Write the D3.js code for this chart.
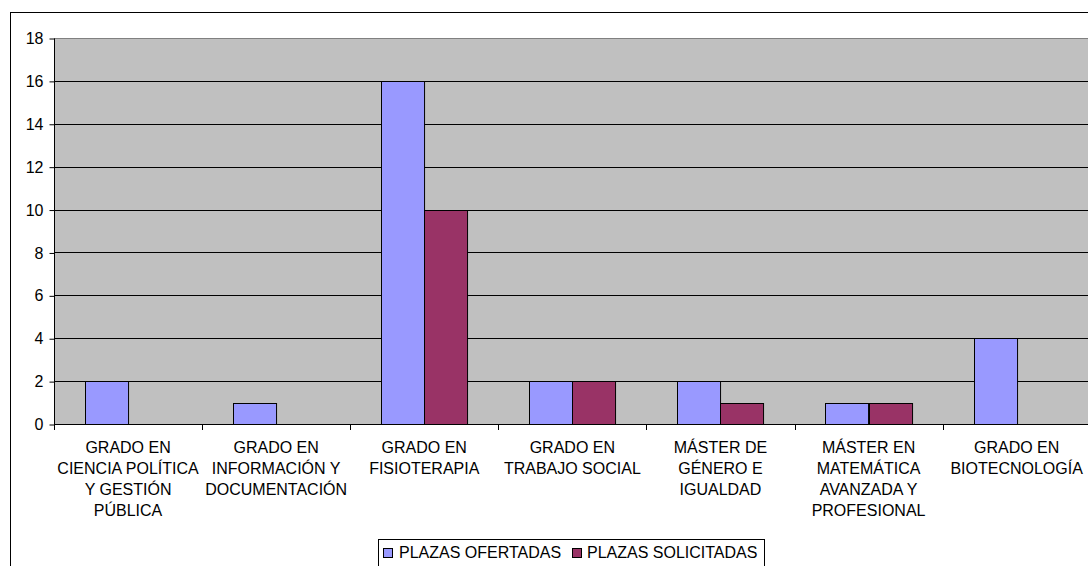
<!DOCTYPE html>
<html>
<head>
<meta charset="utf-8">
<script src="https://cdn.jsdelivr.net/npm/d3@7"></script>
<style>
  html, body { margin: 0; padding: 0; background: #fff; }
  svg { display: block; }
  text { font-family: "Liberation Sans", Arial, sans-serif; fill: #000; }
</style>
</head>
<body>
<svg id="chart" width="1088" height="566"></svg>
<script>
const categories = [
  "GRADO EN\nCIENCIA POLÍTICA\nY GESTIÓN\nPÚBLICA",
  "GRADO EN\nINFORMACIÓN Y\nDOCUMENTACIÓN",
  "GRADO EN\nFISIOTERAPIA",
  "GRADO EN\nTRABAJO SOCIAL",
  "MÁSTER DE\nGÉNERO E\nIGUALDAD",
  "MÁSTER EN\nMATEMÁTICA\nAVANZADA Y\nPROFESIONAL",
  "GRADO EN\nBIOTECNOLOGÍA"
];
const seriesNames = ["PLAZAS OFERTADAS", "PLAZAS SOLICITADAS"];
const plazasOfertadas = [2, 1, 16, 2, 2, 1, 4];
const plazasSolicitadas = [0, 0, 10, 2, 1, 1, 0];
const yTicks = [0, 2, 4, 6, 8, 10, 12, 14, 16, 18];
const colors = ["#9999FF", "#993366"];

(function () {
const svg = d3.select("#chart");
const FONT = "16px";

// outer chart border
svg.append("rect").attr("x", 10.5).attr("y", 12.5).attr("width", 1100).attr("height", 600)
  .attr("fill", "#fff").attr("stroke", "#000").attr("stroke-width", 1);

const pLeft = 54, pTop = 38, pBottom = 424, step = 148.1;
const pRight = pLeft + step * categories.length;

const x = d3.scaleBand().domain(d3.range(categories.length)).range([pLeft, pRight]).paddingInner(0).paddingOuter(0);
const xs = d3.scaleBand().domain([0, 1]).range([0, x.bandwidth()]).paddingInner(0).paddingOuter(0.72);
const y = d3.scaleLinear().domain([0, 18]).range([pBottom, pTop]);

// plot background
svg.append("rect").attr("x", pLeft).attr("y", pTop).attr("width", pRight - pLeft).attr("height", pBottom - pTop)
  .attr("fill", "#C0C0C0");

// gridlines
svg.append("g").selectAll("line").data(yTicks.filter(d => d > 0)).join("line")
  .attr("x1", pLeft).attr("x2", pRight)
  .attr("y1", d => Math.round(y(d)) + 0.5).attr("y2", d => Math.round(y(d)) + 0.5)
  .attr("stroke", d => d === 18 ? "#808080" : "#000").attr("stroke-width", 1);

// bars
const data = [];
categories.forEach((c, i) => {
  [plazasOfertadas[i], plazasSolicitadas[i]].forEach((v, s) => {
    if (v > 0) data.push({ i, s, v });
  });
});
svg.append("g").selectAll("rect").data(data).join("rect")
  .attr("x", d => Math.round(x(d.i) + xs(d.s)) + 0.5)
  .attr("y", d => Math.round(y(d.v)) + 0.5)
  .attr("width", xs.bandwidth())
  .attr("height", d => Math.round(y(0)) - Math.round(y(d.v)))
  .attr("fill", d => colors[d.s])
  .attr("stroke", "#000").attr("stroke-width", 1);

// y axis
const yAxis = d3.axisLeft(y).tickValues(yTicks).tickSize(5).tickPadding(6).tickFormat(d3.format("d"));
const gy = svg.append("g").attr("transform", `translate(${pLeft + 0.5},0.5)`).call(yAxis);
gy.select(".domain").attr("stroke", "#000").attr("d", `M0,${pTop}V${pBottom}`);
gy.selectAll(".tick line").attr("stroke", "#000");
gy.selectAll(".tick text").style("font-size", FONT).attr("fill", "#000").attr("font-family", null);

// x axis line and ticks
const gx = svg.append("g");
gx.append("line").attr("x1", pLeft).attr("x2", pRight).attr("y1", pBottom + 0.5).attr("y2", pBottom + 0.5).attr("stroke", "#000");
gx.selectAll("line.tk").data(d3.range(categories.length + 1)).join("line").attr("class", "tk")
  .attr("x1", i => Math.round(pLeft + i * step) + 0.5).attr("x2", i => Math.round(pLeft + i * step) + 0.5)
  .attr("y1", pBottom).attr("y2", pBottom + 6).attr("stroke", "#000");

// category labels
const labels = svg.append("g").selectAll("text").data(categories).join("text")
  .attr("text-anchor", "middle")
  .style("font-size", FONT)
  .attr("x", (d, i) => x(i) + x.bandwidth() / 2)
  .attr("y", 452.5);
labels.each(function(d) {
  const t = d3.select(this);
  d.split("\n").forEach((line, k) => {
    t.append("tspan").attr("x", t.attr("x")).attr("y", 452.5 + k * 21).text(line);
  });
});

// legend
const lg = svg.append("g");
lg.append("rect").attr("x", 378.5).attr("y", 539.5).attr("width", 386).attr("height", 40)
  .attr("fill", "#fff").attr("stroke", "#000");
const legendPos = [{ sx: 383, tx: 399 }, { sx: 572, tx: 587 }];
seriesNames.forEach((name, s) => {
  lg.append("rect").attr("x", legendPos[s].sx + 0.5).attr("y", 548.5).attr("width", 9).attr("height", 9)
    .attr("fill", colors[s]).attr("stroke", "#000");
  lg.append("text").attr("x", legendPos[s].tx).attr("y", 558).style("font-size", FONT).text(name);
});
})();
</script>
</body>
</html>
